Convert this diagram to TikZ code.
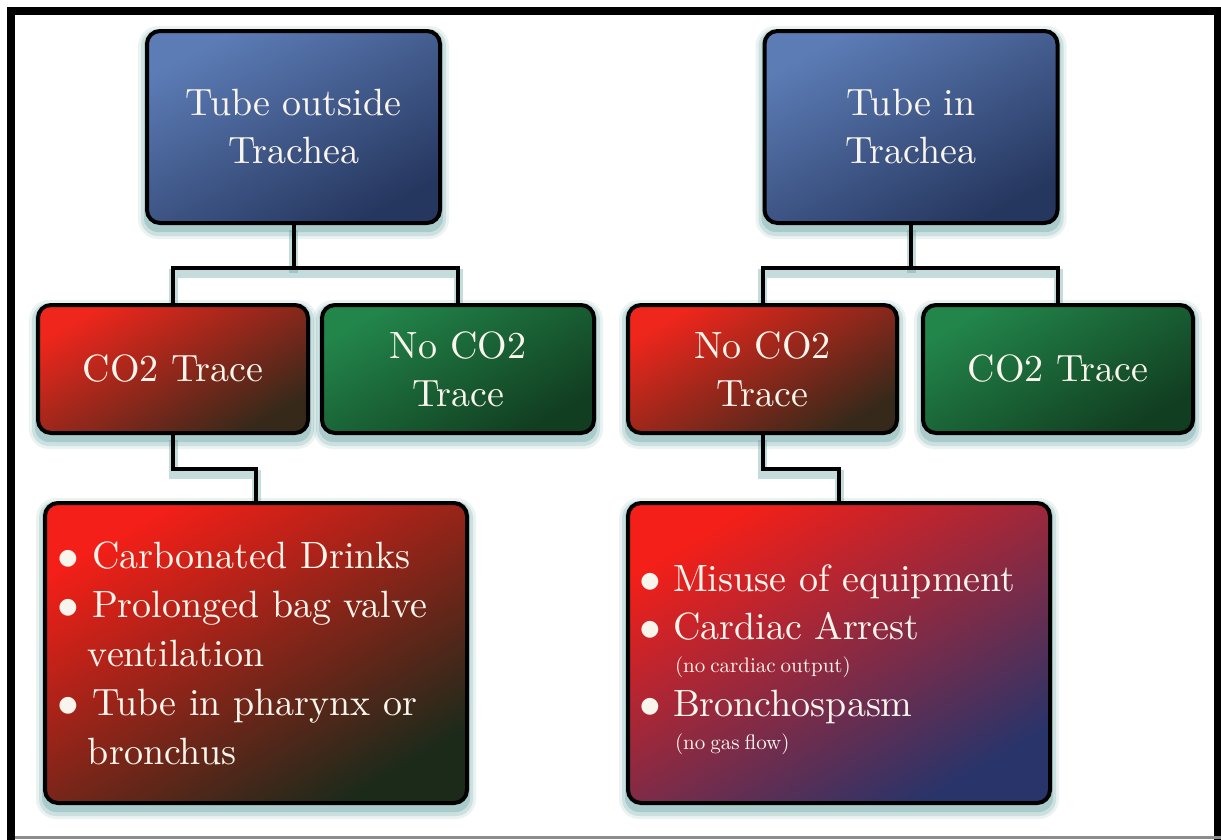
\documentclass[tikz,border=0pt]{standalone}
\usepackage{fontspec}
\setmainfont{lmroman10-regular.otf}
\newfontfamily\dejavu{DejaVu Sans}
\usetikzlibrary{backgrounds}
\definecolor{glowc}{HTML}{5A9C9C}
\definecolor{txt}{HTML}{FAF5EC}
\definecolor{blueA}{HTML}{5C7CB6}
\definecolor{blueB}{HTML}{26375F}
\definecolor{redA}{HTML}{EE261C}
\definecolor{redB}{HTML}{36291A}
\definecolor{greenA}{HTML}{22854A}
\definecolor{greenB}{HTML}{113D20}
\definecolor{bigA}{HTML}{F41F18}
\definecolor{bigB}{HTML}{1C2A1A}
\definecolor{bigC}{HTML}{28346A}
\newcommand\glowfor[1]{%
  \fill[glowc, fill opacity=0.12, rounded corners=20pt] ([shift={(-7,-3)}]#1.north west) rectangle ([shift={(7,14)}]#1.south east);
  \fill[glowc, fill opacity=0.20, rounded corners=17pt] ([shift={(-4,0)}]#1.north west) rectangle ([shift={(4,11)}]#1.south east);
  \fill[glowc, fill opacity=0.30, rounded corners=14pt] ([shift={(-1,2)}]#1.north west) rectangle ([shift={(1,7)}]#1.south east);
}
\newcommand\bul{\makebox[0pt][c]{\raisebox{4pt}{\fontsize{22}{24}\dejavu ●}}}
\newcommand\subtxt[1]{{\fontsize{21}{24}\selectfont\spaceskip=5pt #1}}
\tikzset{
  box/.style={draw=black, line width=4pt, rounded corners=13pt, text=txt, inner sep=0pt,
    align=center, font=\fontsize{38}{48}\selectfont},
  bluebox/.style={box, top color=blueA, bottom color=blueB, shading angle=28,
    minimum width=293pt, minimum height=192pt},
  redbox/.style={box, top color=redA, bottom color=redB, shading angle=30,
    minimum height=128pt},
  greenbox/.style={box, top color=greenA, bottom color=greenB, shading angle=30,
    minimum height=128pt},
  listbox/.style={box, align=left, minimum width=422pt, minimum height=300pt, text width=400pt},
  conn/.style={draw=black, line width=4pt,
    preaction={draw=glowc, line width=9pt, draw opacity=0.35, transform canvas={yshift=-5pt}}}
}
\begin{document}
\begin{tikzpicture}[x=1pt, y=-1pt]
\useasboundingbox (0,0) rectangle (1221,839);

% top level
\node[bluebox] (t1) at (293.5,127) {Tube outside\\Trachea};
\node[bluebox] (t2) at (911,127) {Tube in\\Trachea};

% second level
\node[redbox, minimum width=270pt] (c1) at (173,369) {CO2 Trace};
\node[greenbox, minimum width=272pt] (c2) at (458,369) {No CO2\\Trace};
\node[redbox, minimum width=269pt] (c3) at (762.5,369) {No CO2\\Trace};
\node[greenbox, minimum width=270pt] (c4) at (1058,369) {CO2 Trace};

% lists
\node[listbox, font=\fontsize{38}{49}\selectfont, top color=bigA, bottom color=bigB, shading angle=30] (b1) at (256,653)
  {\hspace*{12pt}\bul\hspace{24pt}Carbonated Drinks\\
   \hspace*{12pt}\bul\hspace{24pt}Prolonged bag valve\\
   \hspace*{32pt}ventilation\\
   \hspace*{12pt}\bul\hspace{24pt}Tube in pharynx or\\
   \hspace*{32pt}bronchus};
\node[listbox, font=\fontsize{38}{48}\selectfont, top color=bigA, bottom color=bigC, shading angle=30] (b2) at (839,653)
  {\rule{0pt}{40pt}\hspace*{11pt}\bul\hspace{23pt}Misuse of equipment\\
   \hspace*{11pt}\bul\hspace{23pt}Cardiac Arrest\\[-15pt]
   \hspace*{36pt}\subtxt{(no cardiac output)}\\[-4pt]
   \hspace*{11pt}\bul\hspace{23pt}Bronchospasm\\[-15pt]
   \hspace*{36pt}\subtxt{(no gas flow)}};

\begin{scope}[on background layer]
  \fill[white] (0,0) rectangle (1221,839);
  \glowfor{t1}\glowfor{t2}\glowfor{c1}\glowfor{c2}\glowfor{c3}\glowfor{c4}\glowfor{b1}\glowfor{b2}
  \path (t1.south) -- ++(0,43) coordinate (j1);
  \path (t2.south) -- ++(0,43) coordinate (j2);
  \draw[conn] (t1.south) -- (j1);
  \draw[conn] (c1.north) |- (j1) -| (c2.north);
  \draw[conn] (t2.south) -- (j2);
  \draw[conn] (c3.north) |- (j2) -| (c4.north);
  \path (c1.south) -- ++(0,34) coordinate (j3);
  \path (c3.south) -- ++(0,34) coordinate (j4);
  \draw[conn] (c1.south) -- (j3) -| (b1.north);
  \draw[conn] (c3.south) -- (j4) -| (b2.north);
\end{scope}

% frame
\draw[black, line width=8pt] (11,11) rectangle (1218,900);
\draw[black!45, line width=3pt] (15,837.5) -- (1221,837.5);
\end{tikzpicture}
\end{document}
